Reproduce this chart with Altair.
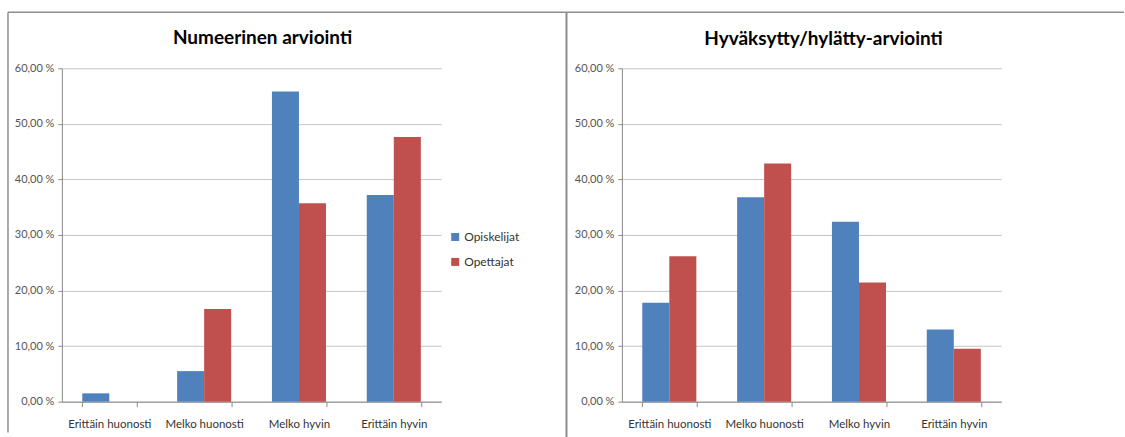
import altair as alt
import pandas as pd

# Answer categories on the x axis
categories = ["Erittäin huonosti", "Melko huonosti", "Melko hyvin", "Erittäin hyvin"]
series = ["Opiskelijat", "Opettajat"]
series_colors = ["#4F81BD", "#C0504D"]

# Share of answers (%), numerical grading
numeerinen_opiskelijat = [1.5, 5.5, 55.8, 37.2]
numeerinen_opettajat = [0.0, 16.67, 35.71, 47.62]

# Share of answers (%), pass/fail grading
hyvaksytty_opiskelijat = [17.8, 36.8, 32.4, 13.0]
hyvaksytty_opettajat = [26.19, 42.86, 21.43, 9.52]

y_ticks = [0, 10, 20, 30, 40, 50, 60]

FONT = "Lato, Liberation Sans, Arial, sans-serif"
FRAME = "#8e8e8e"


def to_frame(a, b):
    rows = []
    for cat, va, vb in zip(categories, a, b):
        rows.append({"luokka": cat, "ryhma": series[0], "osuus": va})
        rows.append({"luokka": cat, "ryhma": series[1], "osuus": vb})
    return pd.DataFrame(rows)


def border(x, x2=None, y=None, y2=None, width=1.5):
    enc = {"x": alt.value(x), "y": alt.value(y)}
    if x2 is not None:
        enc["x2"] = alt.value(x2)
    if y2 is not None:
        enc["y2"] = alt.value(y2)
    return alt.Chart(pd.DataFrame({"k": [0]})).mark_rule(
        color=FRAME, strokeWidth=width
    ).encode(**enc)


def panel(df, title, title_dx, rules):
    bars = alt.Chart(df).mark_bar().encode(
        x=alt.X(
            "luokka:N",
            sort=categories,
            scale=alt.Scale(paddingInner=0.43, paddingOuter=0.215),
            axis=alt.Axis(
                title=None,
                labelAngle=0,
                labelFontSize=11.5,
                labelColor="#333333",
                labelPadding=12,
                tickBand="extent",
                tickSize=5,
                tickColor="#8a8a8a",
                domainColor="#8a8a8a",
                grid=False,
            ),
        ),
        xOffset=alt.XOffset(
            "ryhma:N", sort=series, scale=alt.Scale(domain=series, paddingInner=0, paddingOuter=0)
        ),
        y=alt.Y(
            "osuus:Q",
            scale=alt.Scale(domain=[0, 60], nice=False),
            axis=alt.Axis(
                title=None,
                values=y_ticks,
                labelExpr="replace(format(datum.value, '.2f'), '.', ',') + ' %'",
                labelFontSize=11,
                labelColor="#555555",
                labelPadding=4,
                tickSize=4,
                tickColor="#8a8a8a",
                domainColor="#8a8a8a",
                gridColor="#c4c4c4",
                gridWidth=1,
            ),
        ),
        color=alt.Color(
            "ryhma:N",
            sort=series,
            scale=alt.Scale(domain=series, range=series_colors),
            legend=alt.Legend(
                title=None,
                orient="none",
                legendX=388,
                legendY=163,
                symbolType="square",
                symbolSize=64,
                symbolStrokeWidth=0,
                labelFontSize=12,
                labelColor="#333333",
                rowPadding=13,
                labelOffset=3,
            ),
        ),
    )
    return alt.layer(*rules, bars).properties(
        width=380,
        height=334,
        title=alt.TitleParams(
            title,
            fontSize=19,
            fontWeight="bold",
            color="#000000",
            anchor="middle",
            dx=title_dx,
            offset=-37,
        ),
    )


left = panel(
    to_frame(numeerinen_opiskelijat, numeerinen_opettajat),
    "Numeerinen arviointi",
    11,
    [
        border(-54, 506, -56),
        border(-54, None, -56, 365),
        border(505.5, None, -56, 370, width=2),
    ],
)

right = panel(
    to_frame(hyvaksytty_opiskelijat, hyvaksytty_opettajat),
    "Hyväksytty/hylätty-arviointi",
    12,
    [border(-55, 503, -56)],
)

chart = (
    alt.hconcat(left, right, spacing=181, bounds="flush")
    .properties(padding={"left": 7, "top": 11, "right": 0, "bottom": 0})
    .configure(font=FONT)
    .configure_view(stroke=None)
)

chart.save("out.html", embed_options={"renderer": "svg", "actions": False})
